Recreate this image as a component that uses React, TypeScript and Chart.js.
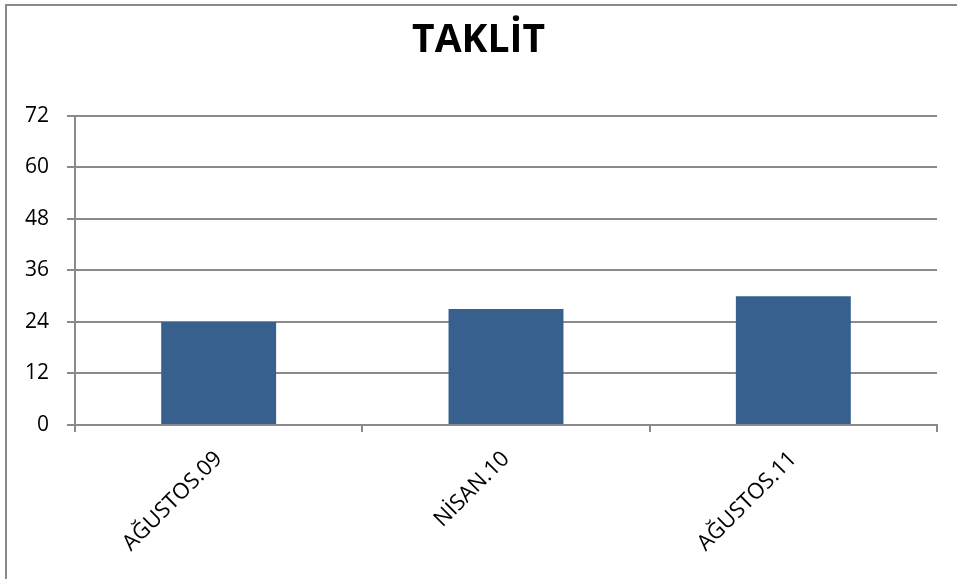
import React, { useEffect, useRef } from "react";
import { Chart, registerables } from "chart.js";

Chart.register(...registerables);

const categories = ["AĞUSTOS.09", "NİSAN.10", "AĞUSTOS.11"];
const values = [24, 27, 30];
const yMin = 0;
const yMax = 72;
const yStep = 12;
const titleText = "TAKLİT";

const GRID = "#8a8a8a";
const BAR = "#37608f";
const FONT = "'Open Sans', 'DejaVu Sans', sans-serif";

export default function App() {
  const ref = useRef<HTMLCanvasElement | null>(null);

  useEffect(() => {
    if (!ref.current) return;
    const chart = new Chart(ref.current, {
      type: "bar",
      data: {
        labels: categories,
        datasets: [
          {
            data: values,
            backgroundColor: BAR,
            borderWidth: 0,
            barPercentage: 0.4,
            categoryPercentage: 1,
          },
        ],
      },
      options: {
        responsive: false,
        animation: false,
        devicePixelRatio: 1,
        layout: { padding: { left: 20, right: 20, top: 0, bottom: 0 } },
        plugins: {
          legend: { display: false },
          tooltip: { enabled: false },
          title: {
            display: true,
            text: titleText,
            color: "#000",
            font: { family: FONT, size: 39, weight: "bold" },
            padding: { top: 17, bottom: 52 },
          },
        },
        scales: {
          x: {
            offset: true,
            grid: {
              offset: true,
              drawOnChartArea: false,
              drawTicks: true,
              tickLength: 7,
              color: GRID,
              lineWidth: 2,
            },
            border: { display: true, color: GRID, width: 2 },
            ticks: {
              minRotation: 45,
              maxRotation: 45,
              autoSkip: false,
              padding: 14,
              color: "#000",
              font: { family: FONT, size: 22 },
            },
            afterFit: (scale: any) => {
              scale.height = 154;
            },
          },
          y: {
            min: yMin,
            max: yMax,
            ticks: {
              stepSize: yStep,
              padding: 18,
              color: "#000",
              font: { family: FONT, size: 21 },
            },
            grid: {
              color: GRID,
              lineWidth: 2,
              tickLength: 8,
              drawTicks: true,
            },
            border: { display: true, color: GRID, width: 2 },
            afterFit: (scale: any) => {
              scale.width = 55;
            },
          },
        },
      },
    });
    return () => chart.destroy();
  }, []);

  return (
    <div
      style={{
        position: "fixed",
        left: 0,
        top: 0,
        width: 957,
        height: 579,
        background: "#fff",
        overflow: "hidden",
      }}
    >
      <div
        style={{
          position: "absolute",
          left: 5,
          top: 4,
          width: 1000,
          height: 1000,
          borderLeft: "2px solid #8a8a8a",
          borderTop: "2px solid #8a8a8a",
          boxSizing: "border-box",
        }}
      />
      <canvas
        ref={ref}
        width={957}
        height={579}
        style={{ position: "absolute", left: 0, top: 0, width: 957, height: 579 }}
      />
    </div>
  );
}
